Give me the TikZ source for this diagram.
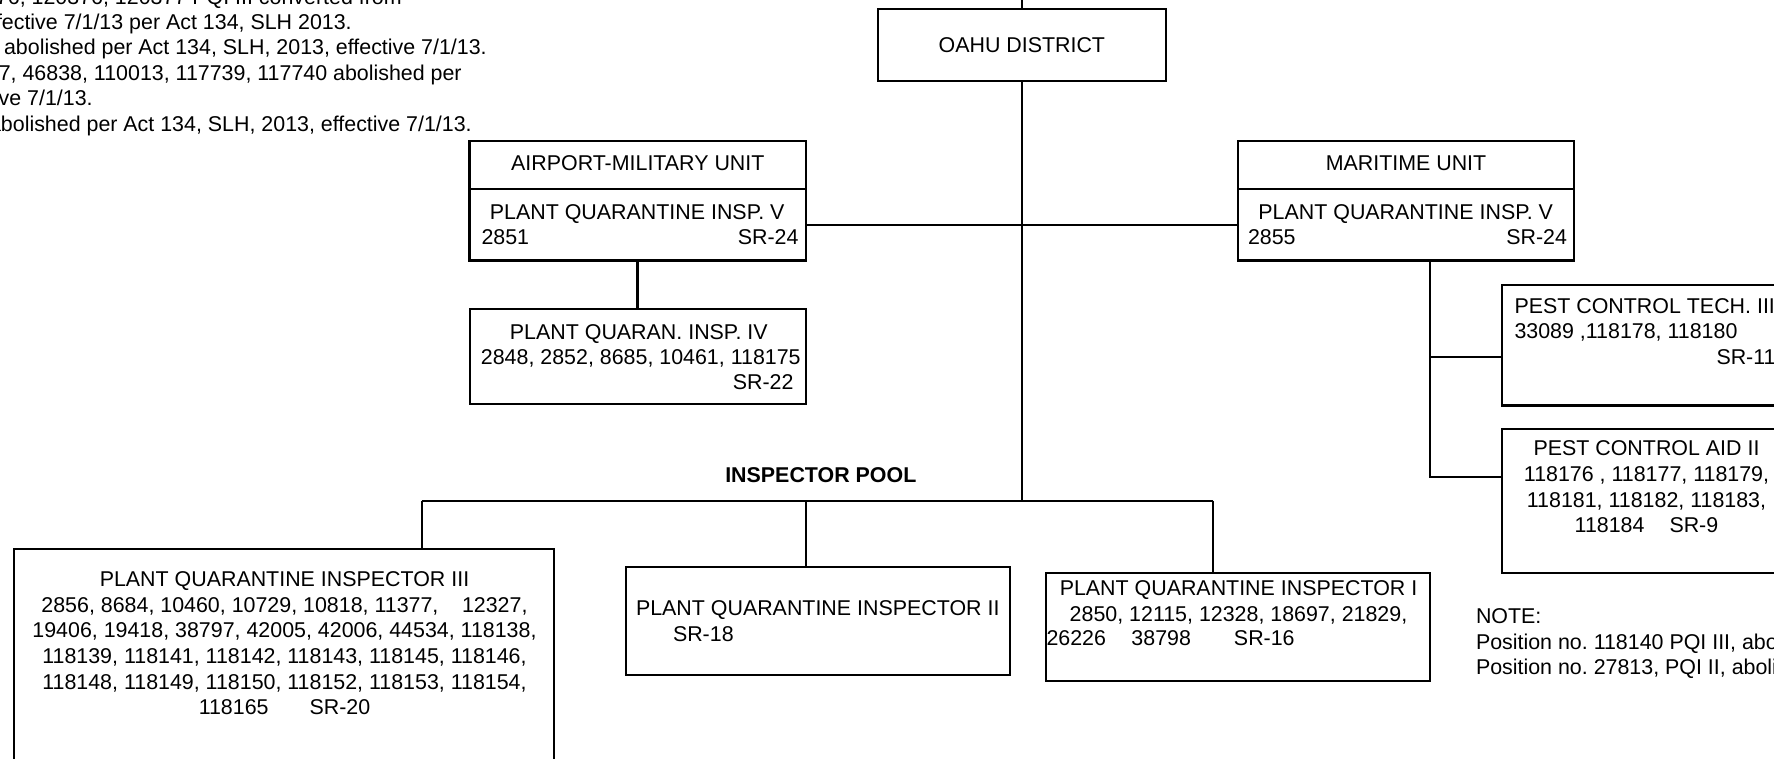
\documentclass[tikz,border=0pt]{standalone}
\usepackage{fontspec}
\setmainfont{Liberation Sans}
\frenchspacing
\begin{document}
\begin{tikzpicture}[x=1pt, y=-1pt, line width=2.3pt,
        every node/.style={font=\fontsize{21.4}{25.6}\selectfont, inner sep=0pt, outer sep=0pt},
        box/.style={draw, line width=2.3pt}]
            \useasboundingbox (0,0) rectangle (1774,758);
            \clip (0,0) rectangle (1774,758);
                \node[anchor=base east] (n1) at (401.7,4) {376, 120376, 120377 PQI III converted from};
                \node[anchor=base east] (n2) at (351.7,29) {effective 7/1/13 per Act 134, SLH 2013.};
                \node[anchor=base east] (n3) at (486.7,54.5) {abolished per Act 134, SLH, 2013, effective 7/1/13.};
                \node[anchor=base east] (n4) at (461.7,80) {7, 46838, 110013, 117739, 117740 abolished per};
                \node[anchor=base east] (n5) at (92.7,105.5) {effective 7/1/13.};
                \node[anchor=base east] (n6) at (471.7,131) {abolished per Act 134, SLH, 2013, effective 7/1/13.};
                \node[box, minimum width=288.3, minimum height=72] (oahu) at (1021.85,45) {OAHU DISTRICT};
                \node[box, minimum width=336.2, minimum height=119.5] (airport) at (637.6,200.75) {};
                \node[box, minimum width=335.7, minimum height=119.5] (maritime) at (1406.15,200.75) {};
                \node[box, minimum width=335.7, minimum height=94.7] (pqi4) at (637.85,356.65) {};
                \node[box, minimum width=298.3, minimum height=120.5] (pct) at (1650.85,345.25) {};
                \node[box, minimum width=298.3, minimum height=144] (pca) at (1650.85,501.3) {};
                \node[box, minimum width=539.8, minimum height=251] (pqi3) at (283.9,674.5) {};
                \node[box, minimum width=384, minimum height=108.3] (pqi2) at (818,620.85) {};
                \node[box, minimum width=384, minimum height=107.7] (pqi1) at (1238,626.85) {};
                \coordinate (divy) at (0,189);
                \coordinate (unitbar) at (1021.85,225);
                \coordinate (mdrop) at (1430,260.5);
                \coordinate (drop3) at (421.7,500.7);
                \coordinate (drop2) at (806,500.7);
                \coordinate (drop1) at (1213.3,500.7);
                \draw (airport.west |- divy) -- (airport.east |- divy);
                \draw (maritime.west |- divy) -- (maritime.east |- divy);
                \draw (oahu.north) -- ++(0,-20);
                \draw (oahu.south) -- (oahu.south |- drop1);
                \draw (airport.east |- unitbar) -- (maritime.west |- unitbar);
                \draw (airport.south) -- (airport.south |- pqi4.north);
                \draw (mdrop) |- ([yshift=24.6pt]pca.west);
                \draw ([yshift=-12.05pt]pct.west) -- ([yshift=-12.05pt]pct.west -| mdrop);
                \draw (drop3) -- (drop1);
                \draw (drop3) -- (drop3 |- pqi3.north);
                \draw (drop2) -- (drop2 |- pqi2.north);
                \draw (drop1) -- (drop1 |- pqi1.north);
                \node[anchor=base] (apunit) at (637.8,170.6) {AIRPORT-MILITARY UNIT};
                \node[anchor=base] (aptitle) at (637.2,219.5) {PLANT QUARANTINE INSP. V};
                \node[anchor=base west] (apno) at (481.5,244.3) {2851};
                \node[anchor=base east] (apsr) at (798.5,244.3) {SR-24};
                \node[anchor=base] (mtunit) at (1406,170.6) {MARITIME UNIT};
                \node[anchor=base] (mttitle) at (1405.7,219.5) {PLANT QUARANTINE INSP. V};
                \node[anchor=base west] (mtno) at (1248,244.3) {2855};
                \node[anchor=base east] (mtsr) at (1567,244.3) {SR-24};
                \node[anchor=base] (p4title) at (638.8,339) {PLANT QUARAN. INSP. IV};
                \node[anchor=base] (p4nos) at (640.8,364) {2848, 2852, 8685, 10461, 118175};
                \node[anchor=base east] (p4sr) at (793.5,389.5) {SR-22};
                \node[anchor=north west, align=left] (pcttext) at (1514.5,298.4) {PEST CONTROL TECH. III\\33089 ,118178, 118180};
                \node[anchor=base west] (pctsr) at (1716.5,364.6) {SR-11};
                \node[anchor=north, align=center] (pcatext) at (1646.5,441) {PEST CONTROL AID II\\118176 , 118177, 118179,\\118181, 118182, 118183,\\118184\hspace{25pt}SR-9};
                \node[anchor=base, font=\fontsize{21.4}{25.6}\selectfont\bfseries] (pool) at (820.8,482.3) {INSPECTOR POOL};
                \node[anchor=north, align=center] (p3text) at (284.5,571.7) {PLANT QUARANTINE INSPECTOR III\\2856, 8684, 10460, 10729, 10818, 11377,\hspace{23.6pt}12327,\\19406, 19418, 38797, 42005, 42006, 44534, 118138,\\118139, 118141, 118142, 118143, 118145, 118146,\\118148, 118149, 118150, 118152, 118153, 118154,\\118165\hspace{41pt}SR-20};
                \node[anchor=north west, align=left] (p2text) at (636,600.7) {PLANT QUARANTINE INSPECTOR II\\\hspace*{37pt}SR-18};
                \node[anchor=north, align=center] (p1text) at (1238.5,581) {PLANT QUARANTINE INSPECTOR I\\2850, 12115, 12328, 18697, 21829,};
                \node[anchor=base west] (p1nos) at (1046.5,645.6) {26226\hspace{25.5pt}38798\hspace{43pt}SR-16};
                \node[anchor=north west, align=left] (note) at (1476,608.7) {NOTE:\\Position no. 118140 PQI III, abolished\\Position no. 27813, PQI II, abolished};
            \end{tikzpicture}
\end{document}
